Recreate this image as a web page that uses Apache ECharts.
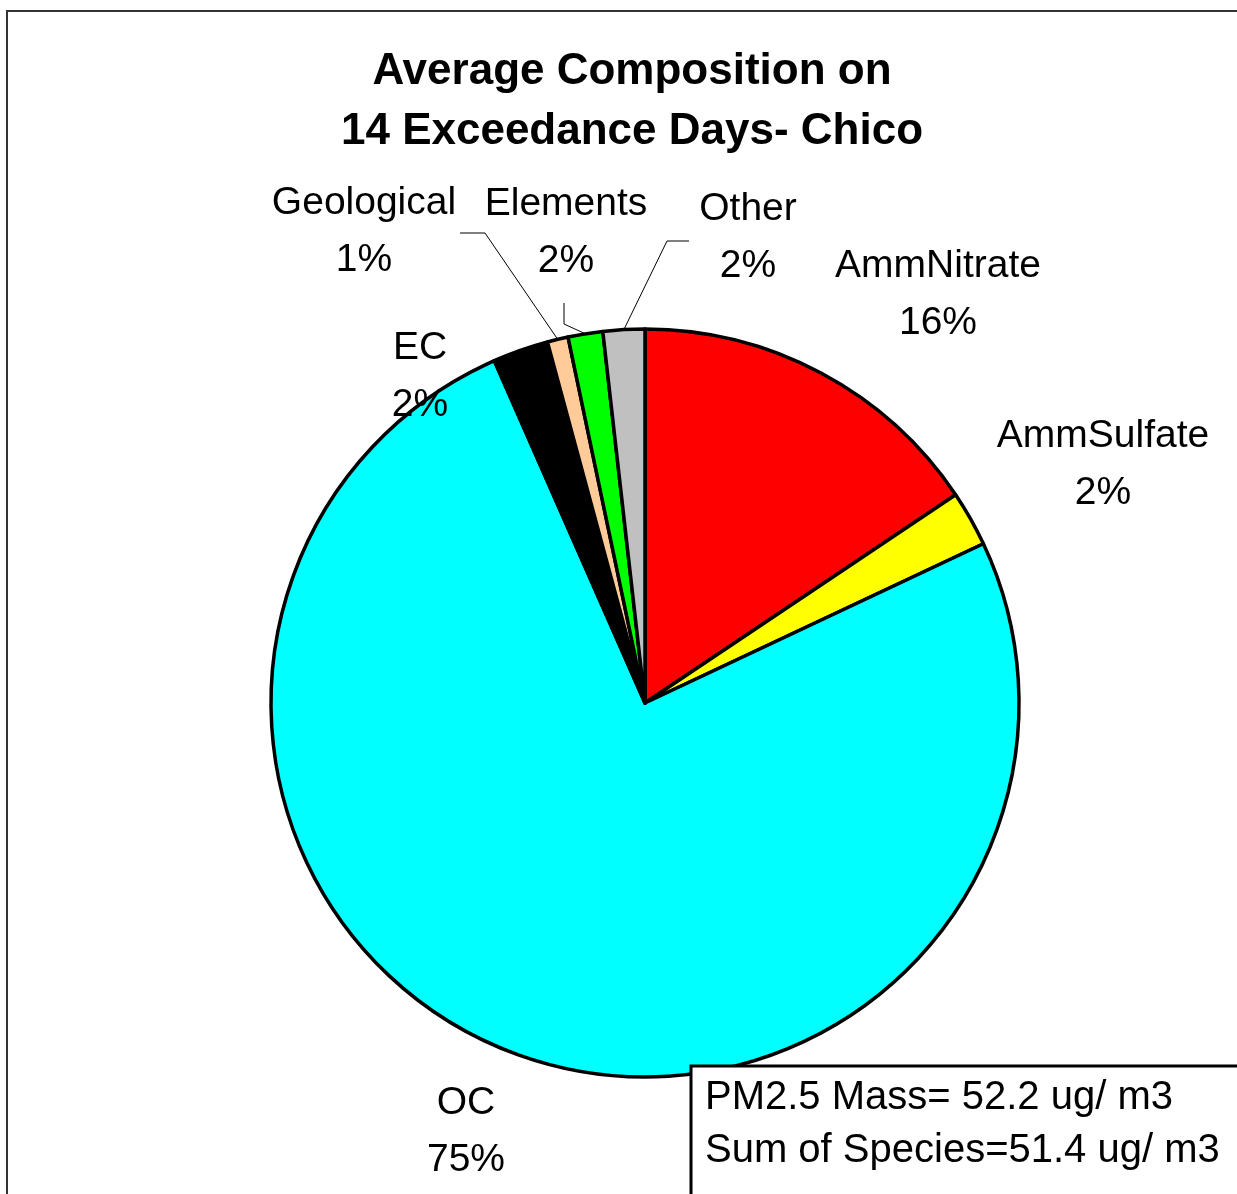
<!DOCTYPE html>
<html>
<head>
<meta charset="utf-8">
<script src="https://cdn.jsdelivr.net/npm/echarts@6/dist/echarts.min.js"></script>
<style>
  html, body { margin: 0; padding: 0; background: #fff; }
  #chart { width: 1237px; height: 1194px; }
</style>
</head>
<body>
<div id="chart"></div>
<script>
// slices clockwise from 12 o'clock, percent of sum of species
const species = ['AmmNitrate', 'AmmSulfate', 'OC', 'EC', 'Geological', 'Elements', 'Other'];
const shares = [15.6, 2.4, 75.4, 2.4, 0.9, 1.5, 1.8];
const sliceColors = ['#ff0000', '#ffff00', '#00ffff', '#000000', '#ffcc99', '#00ff00', '#c0c0c0'];
const titleLines = ['Average Composition on', '14 Exceedance Days- Chico'];
const noteLines = ['PM2.5 Mass= 52.2 ug/ m3', 'Sum of Species=51.4 ug/ m3'];

const FONT = 'Arial, "Liberation Sans", sans-serif';

// where each label block sits (centre), plus leader line elbow/end for the small ones
const labelSpots = {
  AmmNitrate: { at: [938, 295] },
  AmmSulfate: { at: [1103, 465] },
  OC: { at: [466, 1132] },
  EC: { at: [420, 377] },
  Geological: { at: [364, 232], line: [[485, 233], [460, 233]] },
  Elements: { at: [566, 233], line: [[564, 324], [564, 303]] },
  Other: { at: [748, 238], line: [[667, 241], [689, 241]] }
};

var chart = echarts.init(document.getElementById('chart'));

var pieData = species.map((name, i) => ({
  name: name,
  value: shares[i],
  itemStyle: { color: sliceColors[i] },
  labelLine: { show: !!labelSpots[name].line }
}));

var option = {
  animation: false,
  backgroundColor: '#ffffff',
  series: [{
    type: 'pie',
    center: [645, 703],
    radius: 374,
    startAngle: 90,
    clockwise: true,
    silent: true,
    data: pieData,
    itemStyle: { borderColor: '#000', borderWidth: 3.5 },
    label: {
      show: true,
      position: 'outside',
      color: '#000',
      fontFamily: FONT,
      fontSize: 39,
      lineHeight: 57,
      align: 'center',
      overflow: 'none',
      formatter: (p) => p.name + '\n' + Math.round(p.percent) + '%'
    },
    labelLine: {
      show: true,
      lineStyle: { color: '#000', width: 1 }
    },
    labelLayout: function (params) {
      var name = species[params.dataIndex];
      var spot = labelSpots[name];
      var out = {
        x: spot.at[0],
        y: spot.at[1],
        width: 300,
        align: 'center',
        verticalAlign: 'middle'
      };
      if (spot.line && params.labelLinePoints) {
        out.labelLinePoints = [params.labelLinePoints[0], spot.line[0], spot.line[1]];
      }
      return out;
    },
    z: 2
  }],
  graphic: [
    {
      type: 'rect',
      z: 0,
      silent: true,
      shape: { x: 7, y: 11, width: 1400, height: 1400 },
      style: { fill: 'none', stroke: '#333', lineWidth: 2 }
    },
    {
      type: 'text',
      z: 10,
      x: 632,
      y: 42,
      style: {
        text: titleLines.join('\n'),
        fill: '#000',
        font: 'bold 44px ' + FONT,
        lineHeight: 60,
        textAlign: 'center',
        textVerticalAlign: 'top'
      }
    },
    {
      type: 'rect',
      z: 100,
      silent: true,
      shape: { x: 691, y: 1066, width: 700, height: 300 },
      style: { fill: '#fff', stroke: '#000', lineWidth: 3 }
    },
    {
      type: 'text',
      z: 101,
      x: 705,
      y: 1071,
      style: {
        text: noteLines.join('\n'),
        fill: '#000',
        font: '40px ' + FONT,
        lineHeight: 53,
        textAlign: 'left',
        textVerticalAlign: 'top'
      }
    }
  ]
};

chart.setOption(option);
</script>
</body>
</html>
